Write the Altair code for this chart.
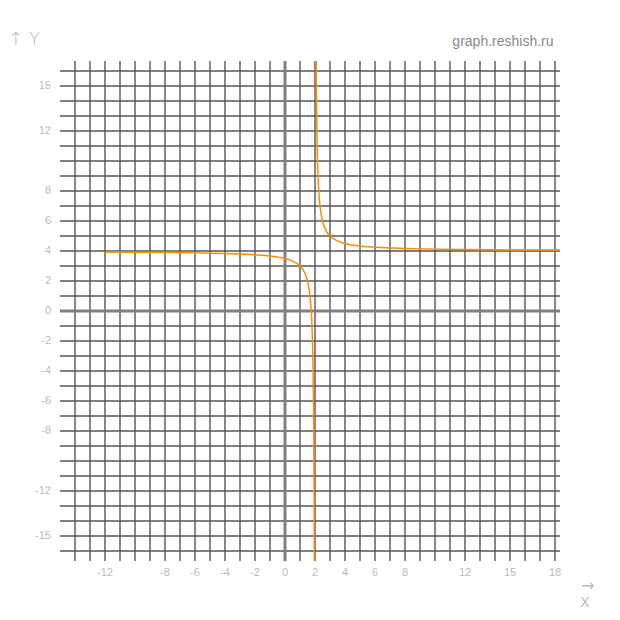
import altair as alt
import pandas as pd

# Curve points (left and right branches)
left_x = [-12, -10, -8, -6, -4, -2, -1, 0, 0.5, 1, 1.3, 1.5, 1.65, 1.75, 1.83, 1.88, 1.92, 1.94, 1.952]
left_y = [3.93, 3.92, 3.9, 3.875, 3.83, 3.75, 3.67, 3.5, 3.33, 3.0, 2.57, 2.0, 1.14, 0.0, -1.9, -4.3, -8.5, -12.7, -16.67]
right_x = [2.079, 2.09, 2.11, 2.14, 2.18, 2.25, 2.35, 2.5, 2.75, 3, 3.5, 4, 5, 6, 8, 10, 12, 14, 16, 18.33]
right_y = [16.67, 15.1, 13.1, 11.1, 9.56, 8.0, 6.86, 6.0, 5.33, 5.0, 4.67, 4.5, 4.33, 4.25, 4.17, 4.125, 4.1, 4.08, 4.07, 4.06]

# Grid
grid_x = list(range(-14, 19))
grid_y = list(range(-16, 17))

# Tick labels
x_ticks = [-12, -8, -6, -4, -2, 0, 2, 4, 6, 8, 12, 15, 18]
y_ticks = [15, 12, 8, 6, 4, 2, 0, -2, -4, -6, -8, -12, -15]

XD = [-277 / 15, 327 / 15]
YD = [-301 / 15, 303 / 15]
xs = alt.Scale(domain=XD, nice=False, zero=False)
ys = alt.Scale(domain=YD, nice=False, zero=False)
noax = None

def X(f):
    return alt.X(f, type="quantitative", scale=xs, axis=noax)

def Y(f):
    return alt.Y(f, type="quantitative", scale=ys, axis=noax)

vdf = pd.DataFrame({"x": grid_x, "y1": -16.67, "y2": 16.67})
hdf = pd.DataFrame({"y": grid_y, "x1": -15.0, "x2": 18.33})

vgrid = alt.Chart(vdf).mark_rule(color="#555555", strokeWidth=1.4).encode(
    x=X("x"), y=Y("y1"), y2="y2")
hgrid = alt.Chart(hdf).mark_rule(color="#555555", strokeWidth=1.4).encode(
    y=Y("y"), x=X("x1"), x2="x2")

vaxis = alt.Chart(pd.DataFrame({"x": [0], "y1": [-16.67], "y2": [16.67]})).mark_rule(
    color="#808080", strokeWidth=3).encode(x=X("x"), y=Y("y1"), y2="y2")
haxis = alt.Chart(pd.DataFrame({"y": [0], "x1": [-15.0], "x2": [18.33]})).mark_rule(
    color="#808080", strokeWidth=3).encode(y=Y("y"), x=X("x1"), x2="x2")

ldf = pd.DataFrame({"x": left_x, "y": left_y, "o": range(len(left_x))})
rdf = pd.DataFrame({"x": right_x, "y": right_y, "o": range(len(right_x))})
lline = alt.Chart(ldf).mark_line(color="#ff8c00", strokeWidth=1.5, interpolate="monotone").encode(
    x=X("x"), y=Y("y"), order="o:Q")
rline = alt.Chart(rdf).mark_line(color="#ff8c00", strokeWidth=1.5, interpolate="monotone").encode(
    x=X("x"), y=Y("y"), order="o:Q")

xt = pd.DataFrame({"x": x_ticks, "y": -17.47, "t": [str(v) for v in x_ticks]})
yt = pd.DataFrame({"y": y_ticks, "x": -15.6, "t": [str(v) for v in y_ticks]})
xlab = alt.Chart(xt).mark_text(color="#bbbbbb", fontSize=11, font="Liberation Sans", baseline="middle").encode(
    x=X("x"), y=Y("y"), text="t:N")
ylab = alt.Chart(yt).mark_text(color="#bbbbbb", fontSize=11, font="Liberation Sans", align="right", baseline="middle").encode(
    x=X("x"), y=Y("y"), text="t:N")

notes = pd.DataFrame({
    "x": [14.53],
    "y": [17.93],
    "t": ["graph.reshish.ru"],
})
site = alt.Chart(notes).mark_text(color="#888888", fontSize=14, font="Liberation Sans", baseline="middle").encode(
    x=X("x"), y=Y("y"), text="t:N")

yname = alt.Chart(pd.DataFrame({"x": [-18.45], "y": [18.1], "t": ["↑ Y"]})).mark_text(
    color="#bbbbbb", fontSize=18, font="DejaVu Sans", align="left", baseline="middle", fontWeight=200).encode(
    x=X("x"), y=Y("y"), text="t:N")
xarrow = alt.Chart(pd.DataFrame({"x": [20.2], "y": [-18.33], "t": ["→"]})).mark_text(
    color="#bbbbbb", fontSize=16, font="DejaVu Sans", baseline="middle").encode(
    x=X("x"), y=Y("y"), text="t:N")
xname = alt.Chart(pd.DataFrame({"x": [20.0], "y": [-19.45], "t": ["X"]})).mark_text(
    color="#bbbbbb", fontSize=14, font="Liberation Sans", baseline="middle").encode(
    x=X("x"), y=Y("y"), text="t:N")

chart = alt.layer(vgrid, hgrid, vaxis, haxis, lline, rline, xlab, ylab, site, yname, xarrow, xname).properties(
    width=604, height=604, padding=0, autosize=alt.AutoSizeParams(type="none")
).configure_view(stroke=None)

chart.save("out.html", embed_options={"renderer": "svg", "actions": False})
